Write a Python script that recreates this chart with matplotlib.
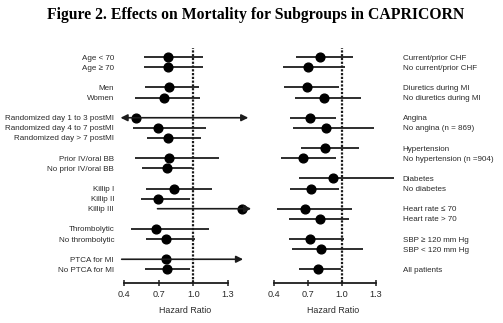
import matplotlib
matplotlib.use("Agg")
import matplotlib.pyplot as plt

# ── Data (hazard ratio, lower CI, upper CI) ──────────────────────────────────

LEFT_GROUPS = [2, 2, 3, 2, 3, 2, 2]
LEFT_LABELS = [
    "Age < 70", "Age \u2265 70",
    "Men", "Women",
    "Randomized day 1 to 3 postMI", "Randomized day 4 to 7 postMI",
    "Randomized day > 7 postMI",
    "Prior IV/oral BB", "No prior IV/oral BB",
    "Killip I", "Killip II", "Killip III",
    "Thrombolytic", "No thrombolytic",
    "PTCA for MI", "No PTCA for MI",
]
LEFT_HR = [0.78, 0.78, 0.785, 0.75, 0.50, 0.69, 0.78, 0.79, 0.775,
           0.83, 0.69, 1.42, 0.68, 0.76, 0.76, 0.775]
LEFT_LO = [0.57, 0.57, 0.58, 0.495, 0.37, 0.475, 0.60, 0.495, 0.555,
           0.59, 0.55, 0.69, 0.46, 0.59, 0.38, 0.58]
LEFT_HI = [1.085, 1.08, 1.045, 1.055, 1.475, 1.11, 1.065, 1.22, 0.99,
           1.16, 0.97, 1.50, 1.135, 1.015, 1.43, 0.975]
# arrow heads: "both", "right" or None
LEFT_ARROW = [None, None, None, None, "both", None, None, None, None,
              None, None, "right", None, None, "right", None]

RIGHT_GROUPS = [2, 2, 2, 2, 2, 2, 2, 1]
RIGHT_LABELS = [
    "Current/prior CHF", "No current/prior CHF",
    "Diuretics during MI", "No diuretics during MI",
    "Angina", "No angina (n = 869)",
    "Hypertension", "No hypertension (n =904)",
    "Diabetes", "No diabetes",
    "Heart rate \u2264 70", "Heart rate > 70",
    "SBP \u2265 120 mm Hg", "SBP < 120 mm Hg",
    "All patients",
]
RIGHT_HR = [0.805, 0.70, 0.695, 0.84, 0.72, 0.86, 0.85, 0.66,
            0.925, 0.73, 0.675, 0.805, 0.72, 0.815, 0.79]
RIGHT_LO = [0.595, 0.48, 0.49, 0.59, 0.545, 0.57, 0.64, 0.46,
            0.62, 0.545, 0.425, 0.53, 0.535, 0.56, 0.62]
RIGHT_HI = [1.095, 1.025, 0.975, 1.17, 0.945, 1.285, 1.15, 0.945,
            1.46, 0.97, 1.085, 1.06, 1.02, 1.19, 0.99]

TICKS = [0.4, 0.7, 1.0, 1.3]
TICK_LABELS = ["0.4", "0.7", "1.0", "1.3"]

# ── Style ─────────────────────────────────────────────────────────────────────

FONT = ["Liberation Sans", "DejaVu Sans"]
INK = "#1c1c1c"
TXT = "#2a2a2a"


def slots(groups):
    pos, s = [], 0
    for g in groups:
        pos.extend(range(s, s + g))
        s += g + 1
    return pos


def forest(ax, labels, hr, lo, hi, arrows, pos, side):
    for i, y in enumerate(pos):
        kind = arrows[i] if arrows else None
        if kind is None:
            ax.plot([lo[i], hi[i]], [y, y], color=INK, lw=1.3,
                    solid_capstyle="butt", zorder=2)
        else:
            style = "<|-|>" if kind == "both" else "-|>"
            ax.annotate("", xy=(hi[i], y), xytext=(lo[i], y),
                        arrowprops=dict(arrowstyle=style, color=INK, lw=1.2,
                                        mutation_scale=10, shrinkA=0, shrinkB=0,
                                        clip_on=False),
                        annotation_clip=False, zorder=4)
        ax.plot(hr[i], y, "o", color="black", ms=6.3, zorder=3, clip_on=False)

    ax.axvline(1.0, color=INK, lw=1.6, ls=(0, (1.0, 0.7)), zorder=1)

    ax.set_xlim(0.35, 1.5)
    ax.set_ylim(22.35, -0.9)
    for s in ["top", "left", "right"]:
        ax.spines[s].set_visible(False)
    ax.spines["bottom"].set_bounds(0.4, 1.3)
    ax.spines["bottom"].set_linewidth(1.3)
    ax.spines["bottom"].set_color(INK)
    ax.set_xticks(TICKS, TICK_LABELS, fontsize=6.6, color=TXT, family=FONT)
    ax.tick_params(axis="x", direction="inout", length=4, width=1.1,
                   color=INK, pad=3)
    ax.set_xlabel("Hazard Ratio", fontsize=6.4, color=TXT, family=FONT,
                  labelpad=5)

    if side == "right":
        ax.yaxis.tick_right()
    ax.set_yticks(pos, labels, fontsize=5.75, color=TXT, family=FONT)
    ax.tick_params(axis="y", length=0, pad=3.0)


fig = plt.figure(figsize=(5.03, 3.23), dpi=100)
ax_l = fig.add_axes([0.235, 0.1238, 0.2644, 0.7276])
ax_r = fig.add_axes([0.5334, 0.1238, 0.259, 0.7276])

forest(ax_l, LEFT_LABELS, LEFT_HR, LEFT_LO, LEFT_HI, LEFT_ARROW,
       slots(LEFT_GROUPS), "left")
forest(ax_r, RIGHT_LABELS, RIGHT_HR, RIGHT_LO, RIGHT_HI, None,
       slots(RIGHT_GROUPS), "right")

fig.text(0.509, 0.953, "Figure 2. Effects on Mortality for Subgroups in CAPRICORN",
         ha="center", va="center", fontsize=11.3, fontweight="bold",
         family=["Liberation Serif", "DejaVu Serif"])

fig.savefig("out.png", dpi=100)
plt.close(fig)
